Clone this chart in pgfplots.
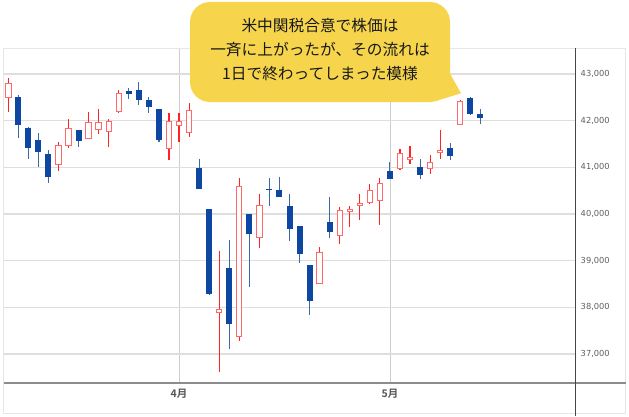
\documentclass[border=0pt]{standalone}
\usepackage{fontspec}
\usepackage{pgfplots}
\usepackage{pgfplotstable}
\pgfplotsset{compat=1.18}
\setmainfont{DejaVu Sans}
\newfontfamily\cjk{Noto Sans CJK JP}
\newfontfamily\cjkb{Noto Sans CJK JP Bold}
\definecolor{upred}{RGB}{255,35,35}
\definecolor{upbody}{RGB}{255,105,105}
\definecolor{dnblue}{RGB}{13,71,161}
\definecolor{dnwick}{RGB}{60,105,165}
\definecolor{gridc}{RGB}{222,222,222}
\definecolor{vgridc}{RGB}{205,205,205}
\definecolor{framec}{RGB}{230,230,230}
\definecolor{bubble}{RGB}{246,213,76}
\definecolor{lab}{RGB}{95,95,95}
\definecolor{xlab}{RGB}{85,85,85}
\definecolor{axgray}{RGB}{140,140,140}
\definecolor{axdark}{RGB}{70,70,70}

% up candles (close > open)
\pgfplotstableread{
x o h l c
0 42493 42907 42193 42800
5 41051 41543 40929 41479
6 41457 42029 41415 41850
8 41608 42193 41600 41979
9 41800 42250 41707 41964
10 41757 42029 41429 41993
11 42179 42657 42170 42586
16 41386 42157 41158 41993
17 41893 42157 41550 41993
18 41743 42372 41657 42229
21 37880 39215 36623 37965
23 37373 40779 37280 40600
25 39479 40422 39265 40200
31 38500 39286 38495 39193
33 39522 40157 39365 40093
34 40036 40164 39729 40114
35 40164 40429 39872 40229
36 40229 40636 40225 40514
37 40283 40780 39758 40673
39 40957 41383 40950 41312
40 41163 41454 41078 41213
42 40957 41263 40851 41107
43 41305 41795 41178 41369
45 41907 42443 41900 42421
}\up

% down candles (close < open)
\pgfplotstableread{
x o h l c
1 42500 42550 41622 41907
2 41850 41872 41172 41407
3 41579 41729 41015 41336
4 41279 41365 40672 40801
7 41793 41800 41429 41565
12 42629 42693 42457 42579
13 42650 42822 42343 42450
14 42436 42500 42157 42300
15 42250 42260 41543 41579
19 40986 41179 40530 40536
20 40100 40110 38264 38286
22 38843 39443 37116 37651
24 39993 40000 38444 39579
26 40543 40779 40179 40507
27 40521 40800 40360 40364
28 40179 40422 39415 39672
29 39736 39740 38943 39136
30 38900 38905 37836 38143
32 39829 40372 39486 39607
38 40922 41107 40740 40744
41 41000 41170 40759 40837
44 41405 41511 41156 41241
46 42493 42500 42120 42136
47 42136 42250 41929 42057
}\dn

\begin{document}
\begin{tikzpicture}
\path[use as bounding box] (0pt,0pt) rectangle (629pt,416pt);
\begin{axis}[
  at={(4pt,33.3pt)}, anchor=south west,
  scale only axis, width=571.7pt, height=334.2pt,
  xmin=-0.43, xmax=56.5, ymin=36386, ymax=43546,
  axis x line*=bottom, axis y line*=right,
  axis line style={draw=none},
  xtick={17,38}, xticklabels={4月,5月},
  ytick={37000,38000,39000,40000,41000,42000,43000},
  scaled y ticks=false,
  major tick length=0pt,
  xmajorgrids, ymajorgrids,
  x grid style={vgridc, line width=0.8pt},
  y grid style={gridc, line width=1.3pt},
  yticklabel style={anchor=west, xshift=1.5pt, font=\fontsize{8.3}{10}\selectfont, text=lab},
  xticklabel style={font=\cjkb\fontsize{10.5}{12}\selectfont, text=xlab, yshift=-3pt},
  /pgf/number format/.cd, 1000 sep={,}, assume math mode=true,
]
% wicks
\addplot[draw=none, mark=none, forget plot,
  error bars/.cd, y dir=minus, y explicit, error mark=none,
  error bar style={draw=upred, line width=1.1pt}]
  table[x=x, y=h, y error minus expr=\thisrow{h}-\thisrow{l}] {\up};
\addplot[draw=none, mark=none, forget plot,
  error bars/.cd, y dir=minus, y explicit, error mark=none,
  error bar style={draw=dnwick, line width=1.1pt}]
  table[x=x, y=h, y error minus expr=\thisrow{h}-\thisrow{l}] {\dn};
% bodies
\addplot[draw=none, mark=none, forget plot,
  error bars/.cd, y dir=minus, y explicit, error mark=none,
  error bar style={draw=dnblue, line width=6pt}]
  table[x=x, y=o, y error minus expr=\thisrow{o}-\thisrow{c}] {\dn};
\addplot[draw=none, mark=none, forget plot,
  error bars/.cd, y dir=minus, y explicit, error mark=none,
  error bar style={draw=upbody, line width=6.4pt}]
  table[x=x, y=c, y error minus expr=\thisrow{c}-\thisrow{o}] {\up};
\addplot[draw=none, mark=none, forget plot,
  error bars/.cd, y dir=minus, y explicit, error mark=none,
  error bar style={draw=white, line width=4.4pt}]
  table[x=x, y expr=\thisrow{c}-22, y error minus expr=\thisrow{c}-\thisrow{o}-44] {\up};
\end{axis}
\draw[framec, line width=1pt] (3.5pt,2.5pt) rectangle (625.5pt,367.5pt);
\draw[axgray, line width=1.6pt] (4pt,33.3pt) -- (625.5pt,33.3pt);
\draw[axdark, line width=0.9pt] (575.7pt,0pt) -- (575.7pt,367.5pt);
% callout
\fill[bubble, rounded corners=20pt] (190pt,314pt) rectangle (450pt,414pt);
\fill[bubble] (448pt,346pt) -- (461pt,322.7pt) -- (436pt,315pt) -- cycle;
\node[font=\cjk\fontsize{15.7}{24}\selectfont, text={rgb,255:red,25;green,25;blue,25}, align=center, inner sep=0pt] at (320pt,366pt)
  {米中関税合意で株価は\\一斉に上がったが、その流れは\\1日で終わってしまった模様};
\end{tikzpicture}
\end{document}
